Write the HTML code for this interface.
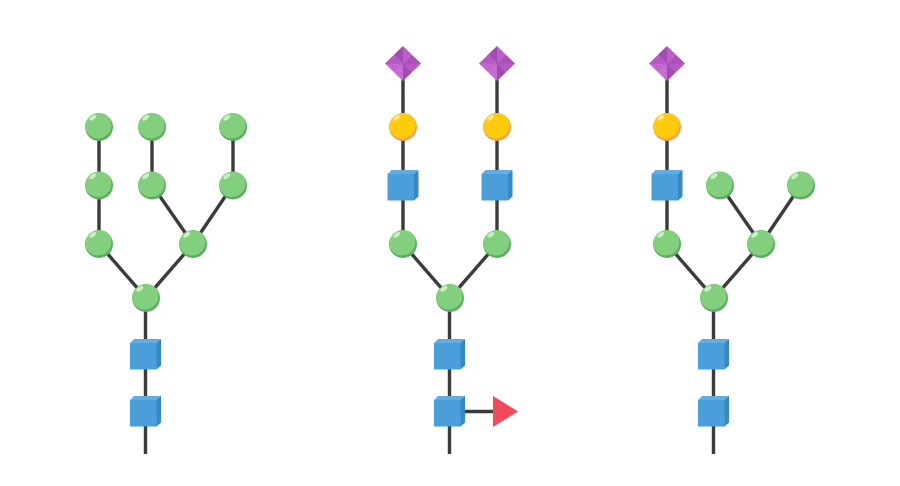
<!DOCTYPE html>
<html>
<head>
<meta charset="utf-8">
<style>
html,body{margin:0;padding:0;background:#fff;width:900px;height:486px;overflow:hidden}
svg{display:block}
</style>
</head>
<body>
<svg width="900" height="486" viewBox="0 0 900 486" xmlns="http://www.w3.org/2000/svg">
<defs>
  <clipPath id="cc"><circle cx="0" cy="0" r="14"/></clipPath>
  <g id="g">
    <circle r="14" fill="#5aae5e"/>
    <g clip-path="url(#cc)"><circle cx="-1" cy="-2" r="13.5" fill="#82d07e"/></g>
    <ellipse cx="-6.2" cy="-9.2" rx="4" ry="2" transform="rotate(-35 -6.2 -9.2)" fill="#c8f0c3"/>
  </g>
  <g id="y">
    <circle r="14" fill="#f0a05a"/>
    <g clip-path="url(#cc)"><circle cx="-1" cy="-2" r="13.5" fill="#ffcb0c"/></g>
    <ellipse cx="-6.2" cy="-9.2" rx="4" ry="2" transform="rotate(-35 -6.2 -9.2)" fill="#ffe88a"/>
  </g>
  <g id="s">
    <polygon points="-15.5,-11.5 -11.5,-15.5 15.5,-15.5 11,-11.5" fill="#62aee4"/>
    <polygon points="11,-11.5 15.5,-15.5 15.5,11 11,15" fill="#3589c4"/>
    <rect x="-15.5" y="-11.5" width="26.5" height="26.5" fill="#4a9eda"/>
  </g>
  <g id="d">
    <polygon points="0,-17.5 -9,-8.75 0,0" fill="#a04bb0"/>
    <polygon points="-9,-8.75 -18,0 0,0" fill="#b558c4"/>
    <polygon points="0,-17.5 9,-8.75 0,0" fill="#bb5ec9"/>
    <polygon points="9,-8.75 18,0 0,0" fill="#a850b8"/>
    <polygon points="-18,0 -9,8.75 0,0" fill="#c265d0"/>
    <polygon points="-9,8.75 0,17.5 0,0" fill="#c66bd4"/>
    <polygon points="18,0 9,8.75 0,0" fill="#b558c4"/>
    <polygon points="9,8.75 0,17.5 0,0" fill="#a04bb0"/>
  </g>
</defs>

<g stroke="#3b3b3d" stroke-width="3.4" fill="none">
  <path d="M99 127V244L146 298M152 127V185L193 244L146 298M233 127V185L193 244M145.5 298V454"/>
  <path d="M403 63V244L450 298M497 63V244L450 298M449.5 298V454M450 411.5H495"/>
  <path d="M667 63V244L714 298M720 185L761 244L714 298M801 185L761 244M713.5 298V454"/>
</g>

<!-- Left -->
<use href="#g" x="99" y="127"/><use href="#g" x="152" y="127"/><use href="#g" x="233" y="127"/>
<use href="#g" x="99" y="185.5"/><use href="#g" x="152" y="185.5"/><use href="#g" x="233" y="185.5"/>
<use href="#g" x="99" y="244"/><use href="#g" x="193" y="244"/>
<use href="#g" x="146" y="298"/>
<use href="#s" x="145.5" y="354.5"/><use href="#s" x="145.5" y="411.5"/>

<!-- Middle -->
<use href="#d" x="403" y="63.5"/><use href="#d" x="497" y="63.5"/>
<use href="#y" x="403" y="127"/><use href="#y" x="497" y="127"/>
<use href="#s" x="403" y="185.5"/><use href="#s" x="497" y="185.5"/>
<use href="#g" x="403" y="244"/><use href="#g" x="497" y="244"/>
<use href="#g" x="450" y="298"/>
<use href="#s" x="449.5" y="354.5"/><use href="#s" x="449.5" y="411.5"/>
<polygon points="493,396 518,411.5 493,427" fill="#f24a5c"/>

<!-- Right -->
<use href="#d" x="667" y="63.5"/>
<use href="#y" x="667" y="127"/>
<use href="#s" x="667" y="185.5"/>
<use href="#g" x="720" y="185.5"/><use href="#g" x="801" y="185.5"/>
<use href="#g" x="667" y="244"/><use href="#g" x="761" y="244"/>
<use href="#g" x="714" y="298"/>
<use href="#s" x="713.5" y="354.5"/><use href="#s" x="713.5" y="411.5"/>
</svg>
</body>
</html>
